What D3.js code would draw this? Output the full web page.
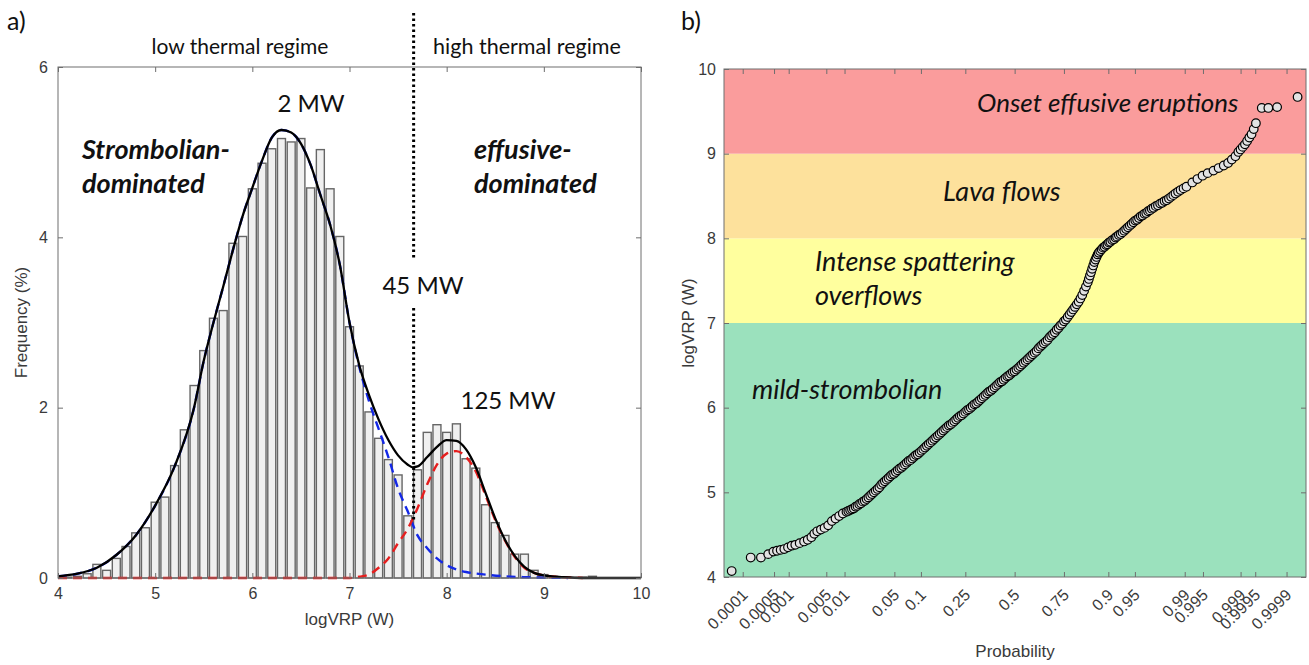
<!DOCTYPE html>
<html>
<head>
<meta charset="utf-8">
<script src="https://cdn.jsdelivr.net/npm/d3@7"></script>
<style>
  body { margin: 0; background: #fff; }
  svg { display: block; }
  .tick text { font-family: "Liberation Sans", Arial, sans-serif; font-size: 16px; fill: #3a3a3a; }
  .note { font-family: Lato, "Open Sans", sans-serif; fill: #111; }
  .lab { font-family: "Liberation Sans", Arial, sans-serif; font-size: 17px; fill: #3a3a3a; }
</style>
</head>
<body>
<svg id="chart" width="1309" height="665"></svg>
<script>
// ---- panel a: histogram of logVRP (bin centres, frequency %)
var histX = [4.1,4.2,4.3,4.4,4.5,4.6,4.7,4.8,4.9,5.0,5.1,5.2,5.3,5.4,5.5,5.6,5.7,5.8,5.9,6.0,
             6.1,6.2,6.3,6.4,6.5,6.6,6.7,6.8,6.9,7.0,7.1,7.2,7.3,7.4,7.5,7.6,7.7,7.8,7.9,8.0,
             8.1,8.2,8.3,8.4,8.5,8.6,8.7,8.8,8.9,9.0,9.1,9.2,9.3,9.4,9.5];
var histFreq = [0.01,0.02,0.05,0.16,0.09,0.23,0.37,0.53,0.59,0.89,0.95,1.32,1.74,2.26,2.67,3.05,3.14,3.93,4.01,4.57,
                4.87,5.04,5.16,5.12,5.16,4.58,5.03,4.57,4.01,2.95,2.49,1.95,1.64,1.39,1.21,0.73,1.27,1.71,1.80,1.71,
                1.81,1.40,1.29,0.86,0.65,0.50,0.28,0.28,0.09,0.04,0.02,0.01,0.01,0.01,0.02];

// fitted curves
var totalX = [4.0,4.2,4.4,4.6,4.8,5.0,5.2,5.4,5.5,5.6,5.7,5.8,5.9,6.0,6.1,6.2,6.3,6.4,6.5,6.6,6.7,6.8,6.9,7.0,
              7.1,7.2,7.3,7.4,7.5,7.6,7.65,7.7,7.8,7.9,8.0,8.1,8.2,8.3,8.4,8.5,8.6,8.7,8.8,8.9,9.0,9.2,9.4,10.0];
var totalY = [0.02,0.05,0.12,0.27,0.50,0.85,1.31,2.00,2.55,3.00,3.42,3.85,4.25,4.58,4.90,5.17,5.26,5.23,5.10,4.85,4.50,4.15,3.68,3.00,
              2.50,2.15,1.86,1.62,1.44,1.33,1.30,1.31,1.42,1.54,1.62,1.61,1.51,1.30,1.00,0.70,0.45,0.26,0.13,0.06,0.03,0.01,0.0,0.0];
var lowX = [4.0,4.2,4.4,4.6,4.8,5.0,5.2,5.4,5.5,5.6,5.7,5.8,5.9,6.0,6.1,6.2,6.3,6.4,6.5,6.6,6.7,6.8,6.9,7.0,
            7.1,7.2,7.3,7.4,7.5,7.6,7.7,7.8,7.9,8.0,8.1,8.2,8.4,8.6,8.8,9.0,9.25];
var lowY = [0.02,0.05,0.12,0.27,0.50,0.85,1.31,2.00,2.55,3.00,3.42,3.85,4.25,4.58,4.90,5.17,5.26,5.23,5.10,4.85,4.50,4.15,3.68,3.00,
            2.48,2.08,1.75,1.42,1.05,0.78,0.50,0.35,0.23,0.15,0.10,0.07,0.04,0.02,0.01,0.005,0.0];
var highX = [4.0,7.0,7.1,7.2,7.3,7.4,7.5,7.6,7.7,7.8,7.9,8.0,8.1,8.2,8.3,8.4,8.5,8.6,8.7,8.8,8.9,9.0,9.2,9.4];
var highY = [0.0,0.0,0.015,0.04,0.12,0.23,0.41,0.58,0.82,1.10,1.33,1.46,1.49,1.42,1.25,0.97,0.68,0.44,0.25,0.12,0.06,0.03,0.01,0.0];

var splitLog = 7.66;      // 45 MW threshold
var crossFreq = 0.68;     // where the two components cross

// ---- panel b: normal probability plot (normal quantile, logVRP)
var qqZ = [-3.87,-3.61,-3.47,-3.37,-3.30,-3.25,-3.20,-3.15,-3.10,-3.05,-3.00,-2.94,-2.88,-2.83,-2.78,-2.74,-2.70,-2.65,-2.60,-2.55,
           -2.50,-2.45,-2.40,-2.35,
           -2.300,-2.275,-2.250,-2.225,-2.200,-2.175,-2.150,-2.125,-2.100,-2.075,-2.050,-2.025,-2.000,-1.975,-1.950,-1.925,
           -1.900,-1.875,-1.850,-1.825,-1.800,-1.775,-1.750,-1.725,-1.700,-1.675,-1.650,-1.625,-1.600,-1.575,-1.550,-1.525,
           -1.500,-1.475,-1.450,-1.425,-1.400,-1.375,-1.350,-1.325,-1.300,-1.275,-1.250,-1.225,-1.200,-1.175,-1.150,-1.125,
           -1.100,-1.075,-1.050,-1.025,-1.000,-0.975,-0.950,-0.925,-0.900,-0.875,-0.850,-0.825,-0.800,-0.775,-0.750,-0.725,
           -0.700,-0.675,-0.650,-0.625,-0.600,-0.575,-0.550,-0.525,-0.500,-0.475,-0.450,-0.425,-0.400,-0.375,-0.350,-0.325,
           -0.300,-0.275,-0.250,-0.225,-0.200,-0.175,-0.150,-0.125,-0.100,-0.075,-0.050,-0.025,0.000,0.025,0.050,0.075,
           0.100,0.125,0.150,0.175,0.200,0.225,0.250,0.275,0.300,0.325,0.350,0.375,0.400,0.425,0.450,0.475,
           0.500,0.525,0.550,0.575,0.600,0.625,0.650,0.675,0.700,0.725,0.750,0.775,0.800,0.825,0.850,0.875,
           0.900,0.925,0.950,0.975,1.000,1.015,1.030,1.045,1.060,1.075,1.090,1.105,1.120,1.135,1.150,1.170,
           1.190,1.210,1.230,1.250,1.270,1.290,1.310,1.335,1.360,1.380,1.400,1.425,1.450,1.475,1.500,1.525,
           1.550,1.575,1.600,1.625,1.650,1.675,1.700,1.725,1.750,1.775,1.800,1.825,1.850,1.875,1.900,1.930,
           1.960,1.990,2.020,2.050,2.080,2.110,2.140,2.170,2.200,2.235,2.270,2.310,2.350,
           2.43,2.50,2.57,2.64,2.72,2.79,2.86,2.92,2.97,3.02,3.06,3.09,3.12,3.15,3.18,3.21,3.24,3.27,3.30,3.38,3.47,3.59,3.87];
var qqLog = [4.07,4.23,4.23,4.27,4.30,4.31,4.32,4.33,4.35,4.37,4.38,4.40,4.42,4.44,4.47,4.51,4.54,4.56,4.58,4.61,
             4.66,4.69,4.72,4.75,
             4.77,4.78,4.79,4.80,4.81,4.83,4.84,4.86,4.87,4.89,4.90,4.92,4.94,4.96,4.98,5.00,
             5.02,5.04,5.06,5.09,5.11,5.13,5.15,5.17,5.19,5.21,5.22,5.24,5.26,5.28,5.29,5.31,
             5.33,5.35,5.37,5.38,5.40,5.42,5.44,5.45,5.47,5.49,5.51,5.53,5.55,5.57,5.59,5.61,
             5.63,5.65,5.67,5.69,5.71,5.73,5.75,5.77,5.79,5.80,5.82,5.84,5.86,5.88,5.90,5.91,
             5.93,5.95,5.97,5.98,6.00,6.02,6.04,6.05,6.07,6.09,6.11,6.13,6.15,6.17,6.19,6.20,
             6.22,6.24,6.26,6.28,6.30,6.31,6.33,6.35,6.37,6.38,6.40,6.42,6.43,6.45,6.47,6.49,
             6.51,6.53,6.55,6.57,6.59,6.61,6.63,6.65,6.67,6.70,6.72,6.74,6.76,6.78,6.80,6.83,
             6.85,6.87,6.89,6.92,6.94,6.97,6.99,7.02,7.04,7.07,7.10,7.13,7.16,7.19,7.22,7.25,
             7.29,7.33,7.38,7.43,7.48,7.52,7.56,7.60,7.64,7.68,7.72,7.75,7.78,7.81,7.83,7.85,
             7.87,7.89,7.90,7.92,7.93,7.95,7.96,7.98,7.99,8.01,8.02,8.04,8.05,8.07,8.09,8.11,
             8.13,8.15,8.17,8.19,8.21,8.22,8.24,8.26,8.27,8.29,8.30,8.32,8.33,8.35,8.36,8.38,
             8.39,8.41,8.42,8.44,8.45,8.47,8.49,8.51,8.53,8.55,8.57,8.59,8.61,
             8.66,8.70,8.74,8.77,8.80,8.83,8.86,8.89,8.93,8.97,9.02,9.05,9.08,9.11,9.15,9.19,9.23,9.29,9.36,9.54,9.54,9.55,9.67];

var probTicks = [0.0001,0.0005,0.001,0.005,0.01,0.05,0.1,0.25,0.5,0.75,0.9,0.95,0.99,0.995,0.999,0.9995,0.9999];

var bandFrom = [4, 7, 8, 9];
var bandTo = [7, 8, 9, 10];
var bandColor = ["#9be1bd", "#ffff9e", "#fde19c", "#fa9c9c"];
var bandLabel = ["mild-strombolian", "Intense spattering|overflows", "Lava flows", "Onset effusive eruptions"];

// inverse normal CDF (Acklam), used for the probability axis
function probit(p) {
  var a = [-39.69683028665376, 220.9460984245205, -275.9285104469687, 138.3577518672690, -30.66479806614716, 2.506628277459239];
  var b = [-54.47609879822406, 161.5858589208229, -155.6989798598866, 66.80131188771972, -13.28068155288572];
  var c = [-0.007784894002430293, -0.3223964580411365, -2.400758277161838, -2.549732539343734, 4.374664141464968, 2.938163982698783];
  var d = [0.007784695709041462, 0.3224671290700398, 2.445134137142996, 3.754408661907416];
  var q, r;
  if (p < 0.02425) {
    q = Math.sqrt(-2 * Math.log(p));
    return (((((c[0]*q+c[1])*q+c[2])*q+c[3])*q+c[4])*q+c[5]) / ((((d[0]*q+d[1])*q+d[2])*q+d[3])*q+1);
  } else if (p > 1 - 0.02425) {
    q = Math.sqrt(-2 * Math.log(1 - p));
    return -(((((c[0]*q+c[1])*q+c[2])*q+c[3])*q+c[4])*q+c[5]) / ((((d[0]*q+d[1])*q+d[2])*q+d[3])*q+1);
  }
  q = p - 0.5; r = q * q;
  return (((((a[0]*r+a[1])*r+a[2])*r+a[3])*r+a[4])*r+a[5])*q / (((((b[0]*r+b[1])*r+b[2])*r+b[3])*r+b[4])*r+1);
}

var svg = d3.select("#chart");
var axisColor = "#6e6e6e";

function styleAxis(g) {
  g.select(".domain").remove();
  g.selectAll(".tick line").attr("stroke", axisColor);
}

// =========== panel a
var ax = { l: 58, r: 641, t: 67, b: 578 };
var xa = d3.scaleLinear().domain([4, 10]).range([ax.l, ax.r]);
var ya = d3.scaleLinear().domain([0, 6]).range([ax.b, ax.t]);
var ga = svg.append("g");

var barW = xa(4.082) - xa(4);
ga.selectAll("rect.bar")
  .data(histX)
  .enter()
  .append("rect")
  .attr("class", "bar")
  .attr("x", function (d) { return xa(d) - barW / 2; })
  .attr("y", function (d, i) { return ya(histFreq[i]); })
  .attr("width", barW)
  .attr("height", function (d, i) { return ya(0) - ya(histFreq[i]); })
  .attr("fill", "#f0f0f0")
  .attr("stroke", "#666")
  .attr("stroke-width", 1.4);

var lineA = d3.line()
  .x(function (d) { return xa(d[0]); })
  .y(function (d) { return ya(d[1]); })
  .curve(d3.curveMonotoneX);

ga.append("path")
  .attr("d", lineA(d3.zip(lowX, lowY)))
  .attr("fill", "none").attr("stroke", "#1428e6").attr("stroke-width", 2.4)
  .attr("stroke-dasharray", "9,6");
ga.append("path")
  .attr("d", lineA(d3.zip(highX, highY)))
  .attr("fill", "none").attr("stroke", "#e61e1e").attr("stroke-width", 2.4)
  .attr("stroke-dasharray", "9,6");
ga.append("path")
  .attr("d", lineA(d3.zip(totalX, totalY)))
  .attr("fill", "none").attr("stroke", "#000").attr("stroke-width", 2.3);

// box + ticks
ga.append("rect")
  .attr("x", ax.l).attr("y", ax.t).attr("width", ax.r - ax.l).attr("height", ax.b - ax.t)
  .attr("fill", "none").attr("stroke", axisColor).attr("stroke-width", 1);

ga.append("g").attr("transform", "translate(0," + ax.b + ")")
  .call(d3.axisBottom(xa).ticks(6).tickSizeInner(-5).tickSizeOuter(0).tickPadding(10).tickFormat(d3.format("d")))
  .call(styleAxis);
ga.append("g").attr("transform", "translate(0," + ax.t + ")")
  .call(d3.axisTop(xa).ticks(6).tickSizeInner(-5).tickSizeOuter(0).tickFormat(""))
  .call(styleAxis);
ga.append("g").attr("transform", "translate(" + ax.l + ",0)")
  .call(d3.axisLeft(ya).tickValues([0, 2, 4, 6]).tickSizeInner(-5).tickSizeOuter(0).tickPadding(10).tickFormat(d3.format("d")))
  .call(styleAxis);
ga.append("g").attr("transform", "translate(" + ax.r + ",0)")
  .call(d3.axisRight(ya).tickValues([0, 2, 4, 6]).tickSizeInner(-5).tickSizeOuter(0).tickFormat(""))
  .call(styleAxis);

ga.append("text").attr("class", "lab")
  .attr("transform", "translate(27," + ((ax.t + ax.b) / 2) + ") rotate(-90)")
  .attr("text-anchor", "middle")
  .text("Frequency (%)");
ga.append("text").attr("class", "lab")
  .attr("x", (ax.l + ax.r) / 2).attr("y", 625)
  .attr("text-anchor", "middle")
  .text("logVRP (W)");

// threshold dotted line, broken around the 45 MW label
var sx = xa(splitLog);
[[13, 259], [308, ya(crossFreq)]].forEach(function (seg) {
  ga.append("line")
    .attr("x1", sx).attr("x2", sx).attr("y1", seg[0]).attr("y2", seg[1])
    .attr("stroke", "#000").attr("stroke-width", 3).attr("stroke-dasharray", "2.5,3");
});

function note(g, x, y, txt, size, weight, style, anchor) {
  g.append("text").attr("class", "note")
    .attr("x", x).attr("y", y)
    .attr("text-anchor", anchor || "start")
    .style("font-size", size + "px")
    .style("font-weight", weight || "normal")
    .style("font-style", style || "normal")
    .text(txt);
}

note(svg, 7, 30, "a)", 25);
note(svg, 681, 30, "b)", 25);
note(ga, 240, 54, "low thermal regime", 21, null, null, "middle");
note(ga, 527, 54, "high thermal regime", 21.5, null, null, "middle");
note(ga, 311, 112, "2 MW", 24, null, null, "middle");
note(ga, 423, 294, "45 MW", 24, null, null, "middle");
note(ga, 508, 409, "125 MW", 24, null, null, "middle");
note(ga, 82, 159, "Strombolian-", 27, "bold", "italic");
note(ga, 82, 193, "dominated", 27, "bold", "italic");
note(ga, 474, 159, "effusive-", 27, "bold", "italic");
note(ga, 474, 193, "dominated", 27, "bold", "italic");

// =========== panel b
var bx = { l: 724, r: 1306, t: 69, b: 577 };
var xb = d3.scaleLinear().domain([-3.975, 3.985]).range([bx.l, bx.r]);
var yb = d3.scaleLinear().domain([4, 10]).range([bx.b, bx.t]);
var gb = svg.append("g");

gb.selectAll("rect.band")
  .data(bandFrom)
  .enter()
  .append("rect")
  .attr("class", "band")
  .attr("x", bx.l)
  .attr("width", bx.r - bx.l)
  .attr("y", function (d, i) { return yb(bandTo[i]); })
  .attr("height", function (d, i) { return yb(d) - yb(bandTo[i]); })
  .attr("fill", function (d, i) { return bandColor[i]; });

var labelPos = [[752, 399], [815, 271], [943, 201], [977, 112]];
bandLabel.forEach(function (t, i) {
  t.split("|").forEach(function (line, j) {
    note(gb, labelPos[i][0], labelPos[i][1] + j * 34, line, i === 3 ? 26 : 27, null, "italic");
  });
});

gb.selectAll("circle.qq")
  .data(qqZ)
  .enter()
  .append("circle")
  .attr("class", "qq")
  .attr("cx", function (d) { return xb(d); })
  .attr("cy", function (d, i) { return yb(qqLog[i]); })
  .attr("r", 4.3)
  .attr("fill", "#e2e2e2")
  .attr("stroke", "#000")
  .attr("stroke-width", 1.2);

gb.append("rect")
  .attr("x", bx.l).attr("y", bx.t).attr("width", bx.r - bx.l).attr("height", bx.b - bx.t)
  .attr("fill", "none").attr("stroke", axisColor).attr("stroke-width", 1);

var probPos = probTicks.map(probit);
gb.append("g").attr("transform", "translate(0," + bx.b + ")")
  .call(d3.axisBottom(xb).tickValues(probPos).tickSizeInner(-5).tickSizeOuter(0).tickFormat(""))
  .call(styleAxis);
gb.append("g").attr("transform", "translate(0," + bx.t + ")")
  .call(d3.axisTop(xb).tickValues(probPos).tickSizeInner(-5).tickSizeOuter(0).tickFormat(""))
  .call(styleAxis);
gb.append("g").attr("transform", "translate(" + bx.l + ",0)")
  .call(d3.axisLeft(yb).ticks(6).tickSizeInner(-5).tickSizeOuter(0).tickPadding(8).tickFormat(d3.format("d")))
  .call(styleAxis);
gb.append("g").attr("transform", "translate(" + bx.r + ",0)")
  .call(d3.axisRight(yb).ticks(6).tickSizeInner(-5).tickSizeOuter(0).tickFormat(""))
  .call(styleAxis);

gb.selectAll("text.prob")
  .data(probTicks)
  .enter()
  .append("text")
  .attr("class", "prob lab")
  .attr("transform", function (d) { return "translate(" + (xb(probit(d)) + 6) + "," + (bx.b + 19) + ") rotate(-45)"; })
  .attr("text-anchor", "end")
  .style("font-size", "16px")
  .text(function (d) { return String(d); });

gb.append("text").attr("class", "lab")
  .attr("x", (bx.l + bx.r) / 2).attr("y", 657)
  .attr("text-anchor", "middle")
  .text("Probability");
gb.append("text").attr("class", "lab")
  .attr("transform", "translate(694," + ((bx.t + bx.b) / 2) + ") rotate(-90)")
  .attr("text-anchor", "middle")
  .text("logVRP (W)");
</script>
</body>
</html>
